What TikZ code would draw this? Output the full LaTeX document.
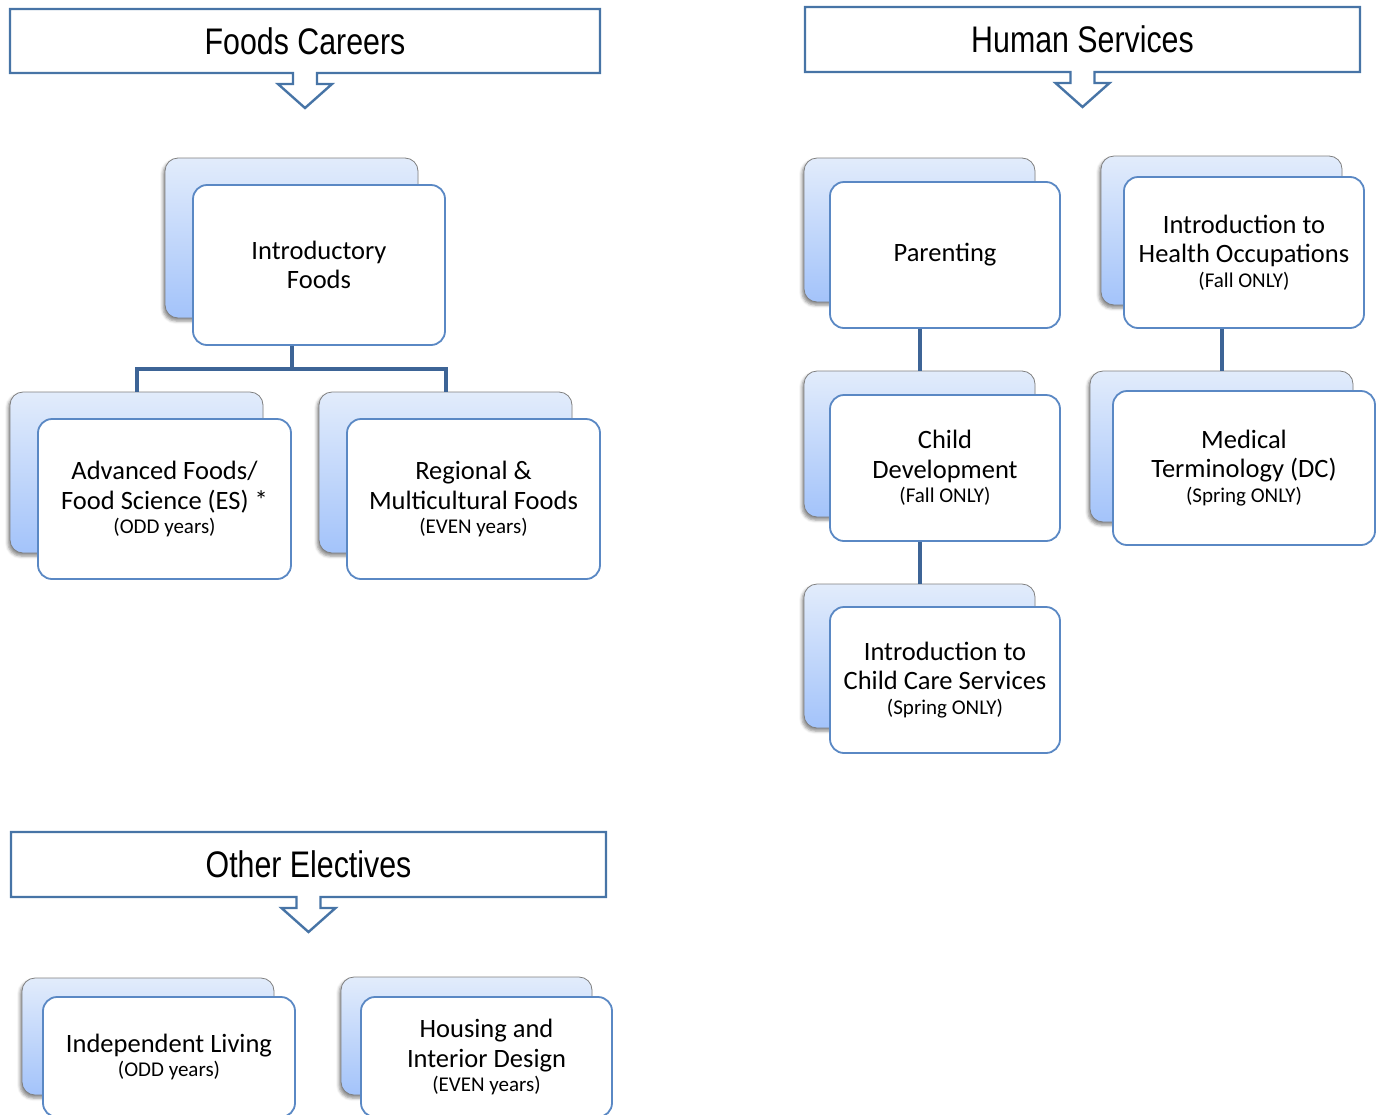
\documentclass[tikz,border=0pt]{standalone}
\usepackage{fontspec}
\setmainfont{Carlito}
\newfontfamily\headfont[FakeStretch=0.82]{Liberation Sans}
\usetikzlibrary{calc,shadows.blur}

\definecolor{headline}{HTML}{4774A6}
\definecolor{frontline}{HTML}{5A88C4}
\definecolor{backline}{HTML}{7F7F7F}
\definecolor{backtop}{HTML}{E2ECFB}
\definecolor{backbot}{HTML}{A3C3FA}
\definecolor{connline}{HTML}{3D6496}

\newcommand\sub[1]{{\fontsize{21}{24}\selectfont #1}}

\tikzset{
  headbox/.style={inner sep=0pt, font=\headfont\fontsize{37}{44}\selectfont},
  headline/.style={draw=headline, line width=2.4pt, fill=white, line join=miter},
  backbox/.style={draw=backline, line width=0.8pt, rounded corners=13pt,
    top color=backtop, bottom color=backbot,
    blur shadow={shadow xshift=-2pt, shadow yshift=-3pt, shadow blur radius=3pt, shadow opacity=45}},
  frontbox/.style={draw=frontline, line width=1.8pt, fill=white, rounded corners=14pt,
    align=center, inner sep=0pt, font=\fontsize{26.5}{29.5}\selectfont},
  conn/.style={draw=connline, line width=4pt, line join=miter}
}

% header: outlined box whose bottom edge opens into a downward arrow
\newcommand\header[6]{% name, cx, cy, width, height, text
  \path[headline] ($(#2,#3)+(-#4/2,-#5/2)$) -- ($(#2,#3)+(#4/2,-#5/2)$)
    -- ($(#2,#3)+(#4/2,#5/2)$) -- ($(#2,#3)+(12,#5/2)$) -- ++(0,11) -- ++(15,0)
    -- ($(#2,#3)+(0,#5/2+35)$) -- ($(#2,#3)+(-27,#5/2+11)$) -- ++(15,0)
    -- ($(#2,#3)+(-12,#5/2)$) -- ($(#2,#3)+(-#4/2,#5/2)$) -- cycle;
  \node[headbox, minimum width=#4pt, minimum height=#5pt] (#1) at (#2,#3) {#6};
}

\begin{document}
\begin{tikzpicture}[x=1pt, y=-1pt]
\clip (0,0) rectangle (1383,1114);

% section headers
\header{fc}{305}{41}{590}{64}{Foods Careers}
\header{hs}{1082.5}{39.5}{555}{65}{Human Services}
\header{oe}{308.5}{864.5}{595}{65}{Other Electives}

% Foods Careers
\node[backbox, minimum width=253pt, minimum height=160pt] (ifB) at (291.5,238) {};
\node[frontbox, minimum width=252pt, minimum height=160pt] (ifF) at (319,265) {Introductory\\Foods};

\node[backbox, minimum width=253pt, minimum height=161pt] (afB) at (136.5,472.5) {};
\node[frontbox, minimum width=253pt, minimum height=160pt] (afF) at (164.5,499)
  {Advanced Foods/\\Food Science (ES) *\\[-5pt]\sub{(ODD years)}};

\node[backbox, minimum width=253pt, minimum height=161pt] (rmB) at (445.5,472.5) {};
\node[frontbox, minimum width=253pt, minimum height=160pt] (rmF) at (473.5,499)
  {Regional \&\\Multicultural Foods\\[-5pt]\sub{(EVEN years)}};

\draw[conn] (ifF.south -| ifB.center) -- ++(0,23) coordinate (bus);
\draw[conn] (afB.north) |- (bus) -| (rmB.north);

% Human Services
\node[backbox, minimum width=231pt, minimum height=144pt] (paB) at (919.5,230) {};
\node[frontbox, minimum width=230pt, minimum height=146pt] (paF) at (945,255) {\raisebox{-3pt}{Parenting}};

\node[backbox, minimum width=231pt, minimum height=146pt] (cdB) at (919.5,444) {};
\node[frontbox, minimum width=230pt, minimum height=146pt] (cdF) at (945,468)
  {Child\\Development\\[-5pt]\sub{(Fall ONLY)}};

\node[backbox, minimum width=231pt, minimum height=144pt] (icB) at (919.5,656) {};
\node[frontbox, minimum width=230pt, minimum height=146pt] (icF) at (945,680)
  {Introduction to\\Child Care Services\\[-5pt]\sub{(Spring ONLY)}};

\node[backbox, minimum width=241pt, minimum height=149pt] (hoB) at (1221.5,230.5) {};
\node[frontbox, minimum width=240pt, minimum height=151pt] (hoF) at (1244,252.5)
  {Introduction to\\Health Occupations\\[-5pt]\sub{(Fall ONLY)}};

\node[backbox, minimum width=263pt, minimum height=151pt] (mtB) at (1221.5,446.5) {};
\node[frontbox, minimum width=262pt, minimum height=154pt] (mtF) at (1244,468)
  {Medical\\Terminology (DC)\\[-5pt]\sub{(Spring ONLY)}};

\draw[conn] (paF.south -| paB.center) -- (cdB.north);
\draw[conn] (cdF.south -| cdB.center) -- (icB.north);
\draw[conn] (hoF.south -| hoB.center) -- (mtB.north);

% Other Electives
\node[backbox, minimum width=252pt, minimum height=117pt] (ilB) at (148,1036.5) {};
\node[frontbox, minimum width=252pt, minimum height=120pt] (ilF) at (169,1057)
  {Independent Living\\[-5pt]\sub{(ODD years)}};

\node[backbox, minimum width=251pt, minimum height=118pt] (hiB) at (466.5,1036) {};
\node[frontbox, minimum width=251pt, minimum height=120pt] (hiF) at (486.5,1057)
  {Housing and\\Interior Design\\[-5pt]\sub{(EVEN years)}};
\end{tikzpicture}
\end{document}
